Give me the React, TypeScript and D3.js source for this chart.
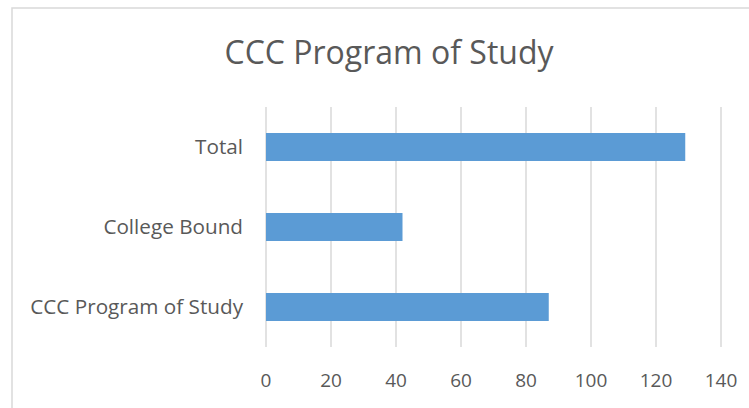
import React from "react";
import * as d3 from "d3";

const categories = ["Total", "College Bound", "CCC Program of Study"];
const values = [129, 42, 87];
const xTicks = [0, 20, 40, 60, 80, 100, 120, 140];
const title = "CCC Program of Study";

const W = 749;
const H = 408;
const FONT = "'Open Sans', 'Noto Sans', sans-serif";

export default function App() {
  const x = d3.scaleLinear().domain([0, 140]).range([266, 721]);
  const y = d3
    .scaleBand<string>()
    .domain(categories)
    .range([107, 347])
    .paddingInner(0.65)
    .paddingOuter(0.325);

  return (
    <svg
      width={W}
      height={H}
      style={{ position: "absolute", left: 0, top: 0, background: "#fff" }}
    >
      <rect x={12} y={8} width={W + 10} height={H + 10} fill="#fff" stroke="#d9d9d9" strokeWidth={1.5} />
      <text
        x={389}
        y={64}
        textAnchor="middle"
        fontFamily={FONT}
        fontSize={32}
        fill="#595959"
      >
        {title}
      </text>
      {xTicks.map((t) => (
        <line key={"g" + t} x1={x(t)} x2={x(t)} y1={107} y2={347} stroke="#d9d9d9" strokeWidth={1.5} />
      ))}
      {categories.map((c, i) => (
        <rect
          key={c}
          x={x(0)}
          y={y(c)}
          width={x(values[i]) - x(0)}
          height={y.bandwidth()}
          fill="#5b9bd5"
        />
      ))}
      {xTicks.map((t) => (
        <text
          key={"t" + t}
          x={x(t)}
          y={387}
          textAnchor="middle"
          fontFamily={FONT}
          fontSize={19}
          fill="#595959"
        >
          {t}
        </text>
      ))}
      {categories.map((c) => (
        <text
          key={"l" + c}
          x={243}
          y={(y(c) as number) + y.bandwidth() / 2}
          dy="0.35em"
          textAnchor="end"
          fontFamily={FONT}
          fontSize={20.7}
          fill="#595959"
        >
          {c}
        </text>
      ))}
    </svg>
  );
}
